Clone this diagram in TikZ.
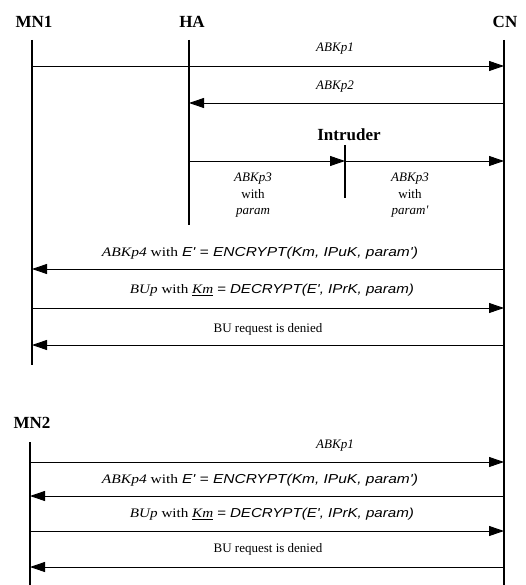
\documentclass[tikz,border=0pt]{standalone}
\usepackage{graphicx}
\usepackage{fontspec}
\setmainfont{Liberation Serif}
\newfontfamily\hv{Liberation Sans}
\usetikzlibrary{arrows.meta}
\tikzset{
  life/.style={line width=1.8pt},
  msg/.style={line width=0.9pt,-{Triangle[length=15pt,width=10pt]}},
  lbl/.style={font=\fontsize{13}{16.5}\selectfont, inner sep=0pt, align=center},
  head/.style={font=\bfseries\fontsize{17}{19}\selectfont, inner sep=0pt}
}
\newcommand{\sfi}[1]{{\hv\itshape\fontsize{13}{15}\selectfont #1}}
\newcommand{\encline}{\resizebox{316pt}{\height}{\textit{ABKp4} with \sfi{E\textquotesingle\ = ENCRYPT(Km, IPuK, param\textquotesingle)}}}
\newcommand{\decline}{\resizebox{284pt}{\height}{\textit{BUp} with \underline{\textit{Km}} \sfi{= DECRYPT(E\textquotesingle, IPrK, param)}}}
\begin{document}
\begin{tikzpicture}[x=1pt,y=-1pt]
\useasboundingbox (0,0) rectangle (526,585);
% headers
\node[head] (mn1) at (34,22) {MN1};
\node[head] (ha)  at (192,22) {HA};
\node[head] (cn)  at (505,22) {CN};
\node[head] (mn2) at (32,423) {MN2};
\node[head] (intr) at (349,135) {Intruder};
% lifeline ends
\coordinate (mn1t) at (32,40);  \coordinate (mn1b) at (32,365);
\coordinate (hat)  at (189,40); \coordinate (hab)  at (189,225);
\coordinate (cnt)  at (504,40); \coordinate (cnb)  at (504,585);
\coordinate (intt) at (345,145); \coordinate (intb) at (345,198);
\coordinate (mn2t) at (30,442); \coordinate (mn2b) at (30,585);
\draw[life] (mn1t) -- (mn1b);
\draw[life] (hat) -- (hab);
\draw[life] (cnt) -- (cnb);
\draw[life] (intt) -- (intb);
\draw[life] (mn2t) -- (mn2b);
% message endpoints
\coordinate (a1s) at (32,66);   \coordinate (a1e) at (504,66);
\coordinate (a2s) at (504,103); \coordinate (a2e) at (189,103);
\coordinate (a3s) at (189,161); \coordinate (a3m) at (345,161); \coordinate (a3e) at (504,161);
\coordinate (a4s) at (504,269); \coordinate (a4e) at (32,269);
\coordinate (a5s) at (32,308);  \coordinate (a5e) at (504,308);
\coordinate (a6s) at (504,345); \coordinate (a6e) at (32,345);
\coordinate (b1s) at (30,462);  \coordinate (b1e) at (504,462);
\coordinate (b4s) at (504,496); \coordinate (b4e) at (30,496);
\coordinate (b5s) at (30,531);  \coordinate (b5e) at (504,531);
\coordinate (b6s) at (504,567); \coordinate (b6e) at (30,567);
\draw[msg] (a1s) -- (a1e);
\draw[msg] (a2s) -- (a2e);
\draw[msg] (a3s) -- (a3m);
\draw[msg] (a3m) -- (a3e);
\draw[msg] (a4s) -- (a4e);
\draw[msg] (a5s) -- (a5e);
\draw[msg] (a6s) -- (a6e);
\draw[msg] (b1s) -- (b1e);
\draw[msg] (b4s) -- (b4e);
\draw[msg] (b5s) -- (b5e);
\draw[msg] (b6s) -- (b6e);
% labels
\node[lbl] (l1) at (335,49) {\itshape ABKp1};
\node[lbl] (l2) at (335,87) {\itshape ABKp2};
\node[lbl,anchor=north] (l3a) at (253,173) {\itshape ABKp3\\ with\\ \itshape param};
\node[lbl,anchor=north] (l3b) at (410,173) {\itshape ABKp3\\ with\\ \itshape param\textquotesingle};
\node[lbl] (l4) at (260,253) {\encline};
\node[lbl] (l5) at (272,290) {\decline};
\node[lbl] (l6) at (268,329) {BU request is denied};
\node[lbl] (m1) at (335,446) {\itshape ABKp1};
\node[lbl] (m4) at (260,480) {\encline};
\node[lbl] (m5) at (272,514) {\decline};
\node[lbl] (m6) at (268,549) {BU request is denied};
\end{tikzpicture}
\end{document}
